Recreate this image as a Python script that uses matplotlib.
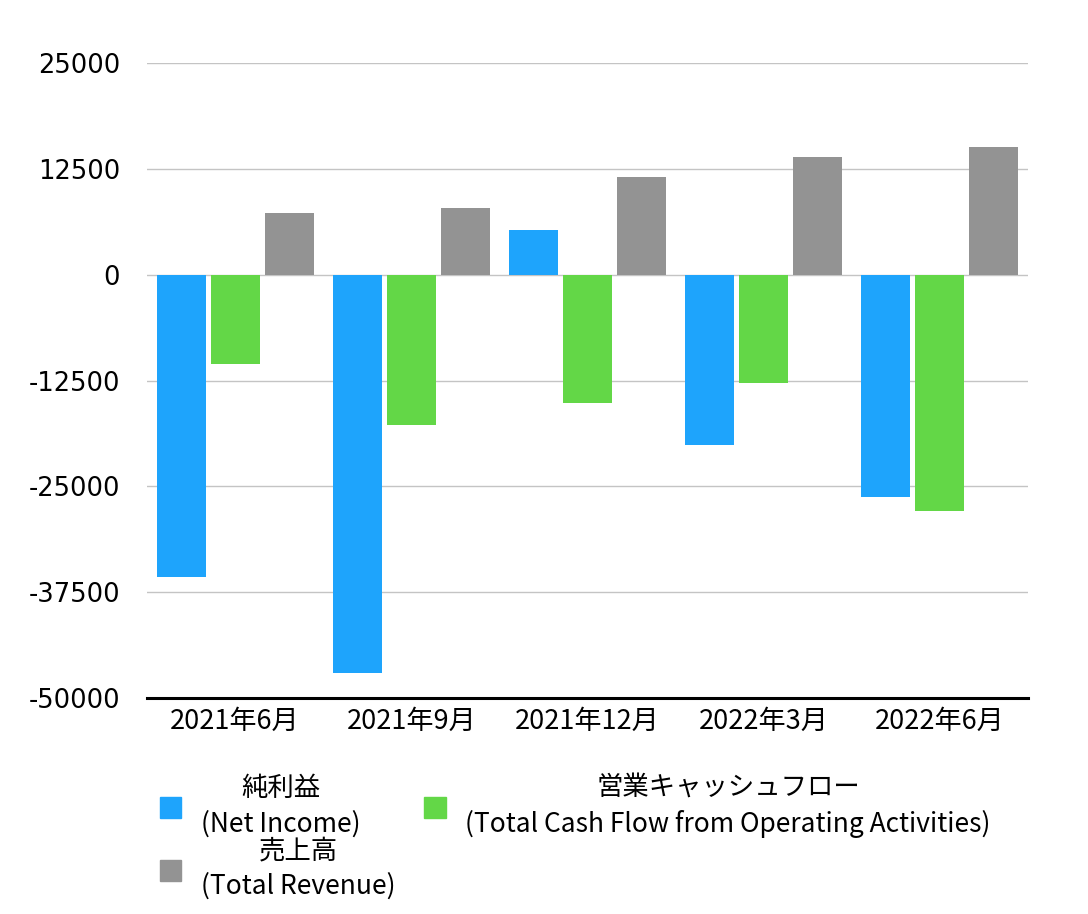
import numpy as np
import matplotlib
matplotlib.use("Agg")
import matplotlib.pyplot as plt
from matplotlib.patches import Patch

plt.rcParams['font.family'] = ['Noto Sans CJK JP', 'DejaVu Sans']

# data
quarters = ["2021年6月", "2021年9月", "2021年12月", "2022年3月", "2022年6月"]
net_income = [-35700, -47000, 5300, -20100, -26300]
cash_flow = [-10600, -17700, -15200, -12750, -27900]
revenue = [7300, 7900, 11500, 13900, 15100]
labels = ["純利益\n(Net Income)",
          "営業キャッシュフロー\n(Total Cash Flow from Operating Activities)",
          "売上高\n(Total Revenue)"]
yticks = [-50000, -37500, -25000, -12500, 0, 12500, 25000]

colors = ["#1ea4fc", "#63d747", "#939393"]

fig = plt.figure(figsize=(10.88, 9.14), dpi=100)
ax = fig.add_axes([147/1088, 1-698/914, 881/1088, 635/914])

x = np.arange(len(quarters))
w = 0.278
off = 0.306
ax.bar(x - off, net_income, w, color=colors[0], zorder=3)
ax.bar(x, cash_flow, w, color=colors[1], zorder=3)
ax.bar(x + off, revenue, w, color=colors[2], zorder=3)

ax.set_xlim(-0.5, len(quarters) - 0.5)
ax.set_ylim(-50000, 25000)
ax.set_yticks(yticks)
ax.set_yticklabels([str(v) for v in yticks])
ax.set_xticks(x)
ax.set_xticklabels(quarters)
ax.tick_params(axis="y", length=0, pad=19.5, labelsize=18.5,
               labelfontfamily="DejaVu Sans")
ax.tick_params(axis="x", length=0, pad=7, labelsize=19.5)

ax.yaxis.grid(True, color="#c4c4c4", linewidth=1.0, zorder=0)
for s in ["top", "right", "left"]:
    ax.spines[s].set_visible(False)
ax.spines["bottom"].set_linewidth(2.2)
ax.spines["bottom"].set_color("black")
ax.spines["bottom"].set_zorder(4)

handles = [Patch(color=colors[0]), Patch(color=colors[2]), Patch(color=colors[1])]
leg = fig.legend(handles, [labels[0], labels[2], labels[1]], ncol=2,
                 loc="upper left", bbox_to_anchor=(160/1088, 1-774/914),
                 frameon=False, fontsize=19, borderpad=0, borderaxespad=0,
                 handlelength=0.8, handleheight=0.85, handletextpad=0.75,
                 columnspacing=1.1, labelspacing=0.0)
for t in leg.get_texts():
    t.set_multialignment("center")
    t.set_linespacing(1.4)

fig.savefig("out.png", dpi=100)
